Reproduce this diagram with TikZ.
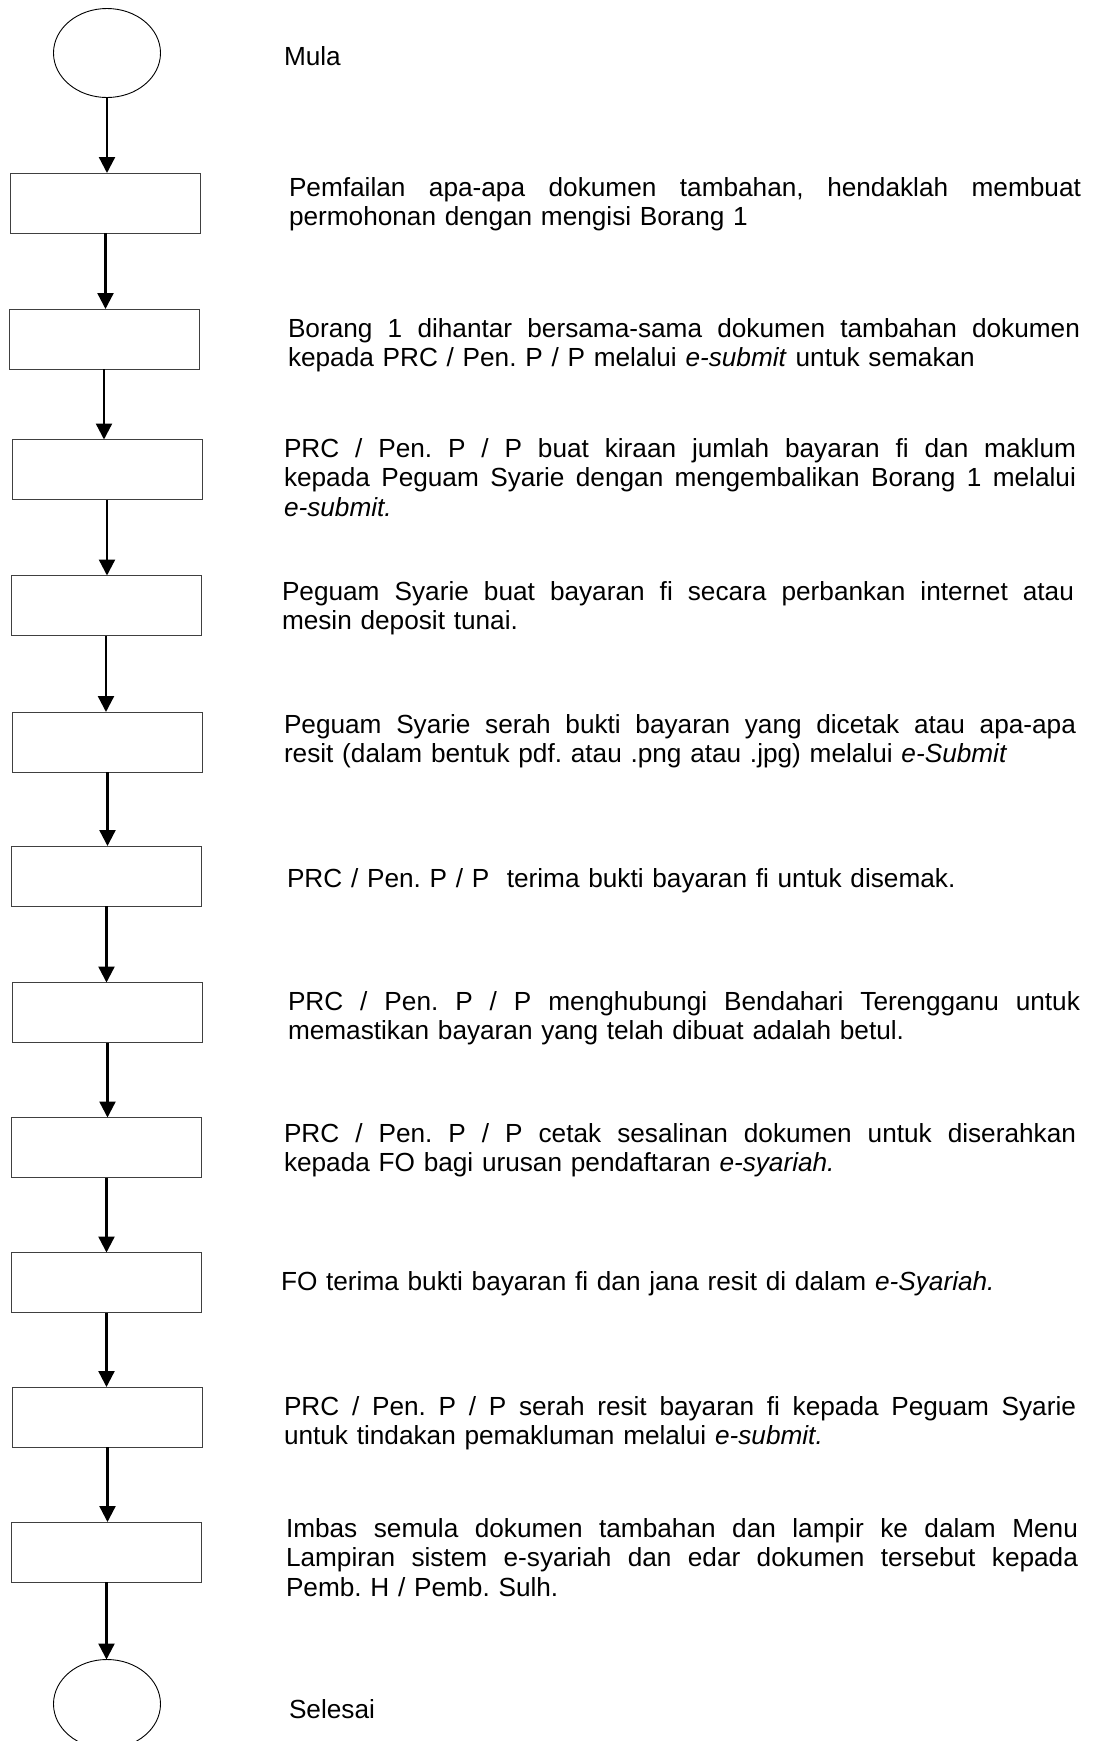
\documentclass[tikz,border=0pt]{standalone}
\usepackage{fontspec}
\setmainfont{Liberation Sans}
\frenchspacing
\usetikzlibrary{arrows.meta,shapes.geometric}
\newcommand{\jline}[1]{\leavevmode\hbox to 792pt{\spaceskip=0.278em plus 1fil\relax #1}}
\begin{document}
\begin{tikzpicture}[x=1pt,y=-1pt,
  procbox/.style={draw=black!75, line width=1pt, rectangle, inner sep=0pt, outer sep=0pt,
                  minimum width=190pt, minimum height=60pt},
  term/.style={draw=black, line width=0.9pt, ellipse, inner sep=0pt, outer sep=0pt,
               minimum width=107pt, minimum height=89pt},
  flow/.style={line width=2.3pt, -{Triangle[length=16pt,width=16pt]}},
  txt/.style={anchor=base west, inner sep=0pt, outer sep=0pt, text width=792pt, align=left,
              font=\fontsize{26.2pt}{29.8pt}\selectfont},
  lbl/.style={anchor=base west, inner sep=0pt, outer sep=0pt,
              font=\fontsize{26.2pt}{29.8pt}\selectfont}]
\useasboundingbox (0,0) rectangle (1093,1741);
\fill[white] (0,0) rectangle (1093,1741);

% shapes
\node[term] (s) at (107,53) {};
\node[procbox] (b1) at (105.5,203) {};
\node[procbox] (b2) at (104,339) {};
\node[procbox] (b3) at (107,469.5) {};
\node[procbox] (b4) at (106,605.5) {};
\node[procbox] (b5) at (107.5,742) {};
\node[procbox] (b6) at (106.5,876) {};
\node[procbox] (b7) at (107.5,1012.5) {};
\node[procbox] (b8) at (106.5,1147.5) {};
\node[procbox] (b9) at (106.5,1282.5) {};
\node[procbox] (b10) at (107.5,1417) {};
\node[procbox] (b11) at (106.5,1552) {};
\node[term] (e) at (107,1704) {};

% connectors
\draw[flow] (s.south) -- (s.south |- b1.north);
\draw[flow] (b1.south) -- (b1.south |- b2.north);
\draw[flow] (b2.south) -- (b2.south |- b3.north);
\draw[flow] (b3.south) -- (b3.south |- b4.north);
\draw[flow] (b4.south) -- (b4.south |- b5.north);
\draw[flow] (b5.south) -- (b5.south |- b6.north);
\draw[flow] (b6.south) -- (b6.south |- b7.north);
\draw[flow] (b7.south) -- (b7.south |- b8.north);
\draw[flow] (b8.south) -- (b8.south |- b9.north);
\draw[flow] (b9.south) -- (b9.south |- b10.north);
\draw[flow] (b10.south) -- (b10.south |- b11.north);
\draw[flow] (b11.south) -- (b11.south |- e.north);

% texts
\node[lbl] (tm) at (284,65) {Mula};
\node[txt] (t1) at (289,196) {\jline{Pemfailan apa-apa dokumen tambahan, hendaklah membuat}\\permohonan dengan mengisi Borang 1};
\node[txt] (t2) at (288,337) {\jline{Borang 1 dihantar bersama-sama dokumen tambahan dokumen}\\kepada PRC / Pen. P / P melalui \textit{e-submit} untuk semakan};
\node[txt] (t3) at (284,457) {\jline{PRC / Pen. P / P buat kiraan jumlah bayaran fi dan maklum}\\\jline{kepada Peguam Syarie dengan mengembalikan Borang 1 melalui}\\\textit{e-submit.}};
\node[txt] (t4) at (282,600) {\jline{Peguam Syarie buat bayaran fi secara perbankan internet atau}\\mesin deposit tunai.};
\node[txt] (t5) at (284,733) {\jline{Peguam Syarie serah bukti bayaran yang dicetak atau apa-apa}\\resit (dalam bentuk pdf. atau .png atau .jpg) melalui \textit{e-Submit}};
\node[txt] (t6) at (287,887) {PRC / Pen. P / P\ \ terima bukti bayaran fi untuk disemak.};
\node[txt] (t7) at (288,1010) {\jline{PRC / Pen. P / P menghubungi Bendahari Terengganu untuk}\\memastikan bayaran yang telah dibuat adalah betul.};
\node[txt] (t8) at (284,1142) {\jline{PRC / Pen. P / P cetak sesalinan dokumen untuk diserahkan}\\kepada FO bagi urusan pendaftaran \textit{e-syariah.}};
\node[txt] (t9) at (281,1290) {FO terima bukti bayaran fi dan jana resit di dalam \textit{e-Syariah.}};
\node[txt] (t10) at (284,1415) {\jline{PRC / Pen. P / P serah resit bayaran fi kepada Peguam Syarie}\\untuk tindakan pemakluman melalui \textit{e-submit.}};
\node[txt] (t11) at (286,1537) {\jline{Imbas semula dokumen tambahan dan lampir ke dalam Menu}\\\jline{Lampiran sistem e-syariah dan edar dokumen tersebut kepada}\\Pemb. H / Pemb. Sulh.};
\node[lbl] (te) at (289,1718) {Selesai};
\end{tikzpicture}
\end{document}
